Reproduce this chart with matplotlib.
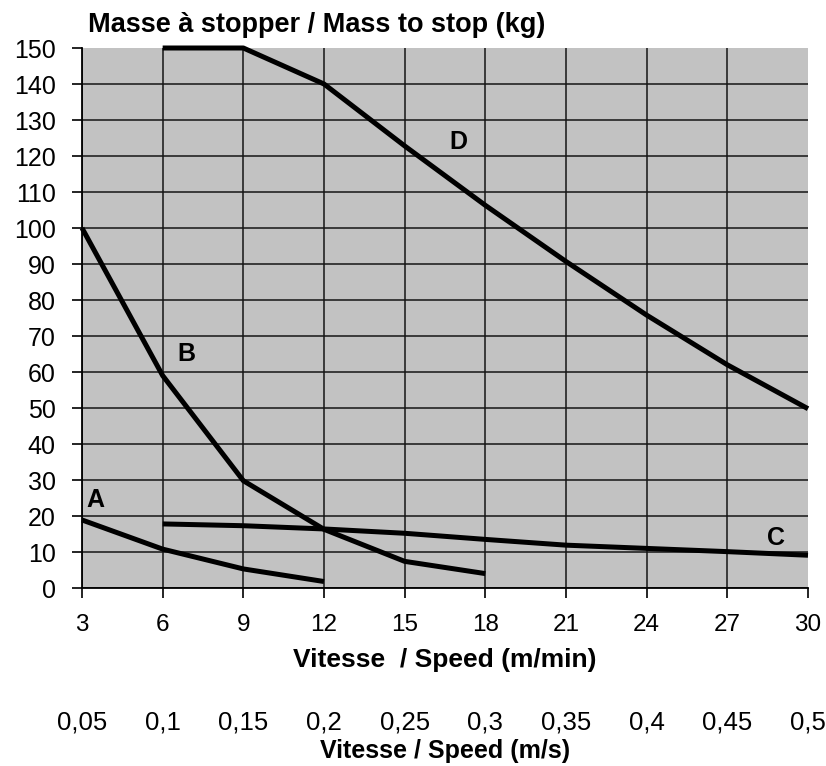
import matplotlib
matplotlib.use("Agg")
import matplotlib.pyplot as plt

plt.rcParams['font.family'] = ['Liberation Sans', 'DejaVu Sans']

# ---- data ----
speed_a = [3, 6, 9, 12]
mass_a = [18.9, 10.8, 5.3, 1.8]
speed_b = [3, 6, 9, 12, 15, 18]
mass_b = [100, 59, 29.8, 16.3, 7.4, 4.0]
speed_c = [6, 9, 12, 15, 18, 21, 24, 27, 30]
mass_c = [17.8, 17.3, 16.4, 15.2, 13.5, 11.9, 11.0, 10.1, 9.1]
speed_d = [6, 9, 12, 15, 18, 21, 24, 27, 30]
mass_d = [150, 150, 140, 122.8, 106.3, 90.7, 75.8, 62.0, 49.8]

curve_names = ['A', 'B', 'C', 'D']
label_pos_x = [3.5, 6.9, 28.8, 17.0]
label_pos_y = [24.5, 65, 14, 124]

x_ticks = [3, 6, 9, 12, 15, 18, 21, 24, 27, 30]
y_ticks = list(range(0, 151, 10))
ms_ticks = [0.05, 0.1, 0.15, 0.2, 0.25, 0.3, 0.35, 0.4, 0.45, 0.5]
ms_labels = ['0,05', '0,1', '0,15', '0,2', '0,25', '0,3', '0,35', '0,4', '0,45', '0,5']

title = 'Masse à stopper / Mass to stop (kg)'
xlabel_min = 'Vitesse  / Speed (m/min)'
xlabel_s = 'Vitesse / Speed (m/s)'

# ---- figure ----
W, H = 826, 766
fig = plt.figure(figsize=(W / 100, H / 100), dpi=100)
ax = fig.add_axes([82 / W, 1 - 588 / H, 726 / W, 540 / H])
ax.set_facecolor('#c2c2c2')

ax.set_xlim(3, 30)
ax.set_ylim(0, 150)
ax.set_xticks(x_ticks)
ax.set_yticks(y_ticks)
ax.tick_params(axis='y', length=7, width=1.2, pad=12, labelsize=18, direction='out')
ax.tick_params(axis='x', length=7, width=1.2, pad=12, labelsize=17.5, direction='out')

for sp in ['top', 'right']:
    ax.spines[sp].set_visible(False)
for sp in ['left', 'bottom']:
    ax.spines[sp].set_linewidth(1.3)
    ax.spines[sp].set_color('black')

ax.set_axisbelow(True)
ax.grid(True, color='#151515', linewidth=1.1)
ax.get_ygridlines()[-1].set_visible(False)
ax.get_xgridlines()[-1].set_visible(False)

for xs, ys in [(speed_a, mass_a), (speed_b, mass_b), (speed_c, mass_c), (speed_d, mass_d)]:
    ax.plot(xs, ys, color='black', linewidth=3.6, clip_on=False, zorder=3,
            solid_joinstyle='round', solid_capstyle='butt')

for name, lx, ly in zip(curve_names, label_pos_x, label_pos_y):
    ax.text(lx, ly, name, fontsize=18, fontweight='bold', ha='center', va='center', zorder=4)

ax.set_xlabel(xlabel_min, fontsize=19, fontweight='bold', labelpad=8)

sec = ax.secondary_xaxis(-0.212, functions=(lambda v: v / 60.0, lambda v: v * 60.0))
sec.set_xticks(ms_ticks)
sec.set_xticklabels(ms_labels)
sec.tick_params(axis='x', length=0, pad=6, labelsize=18.5)
sec.spines['bottom'].set_visible(False)
sec.set_xlabel(xlabel_s, fontsize=18, fontweight='bold', labelpad=3)

fig.text(88 / W, 1 - 25 / H, title, fontsize=19.5, fontweight='bold', ha='left', va='center')

fig.savefig('out.png', dpi=100)
